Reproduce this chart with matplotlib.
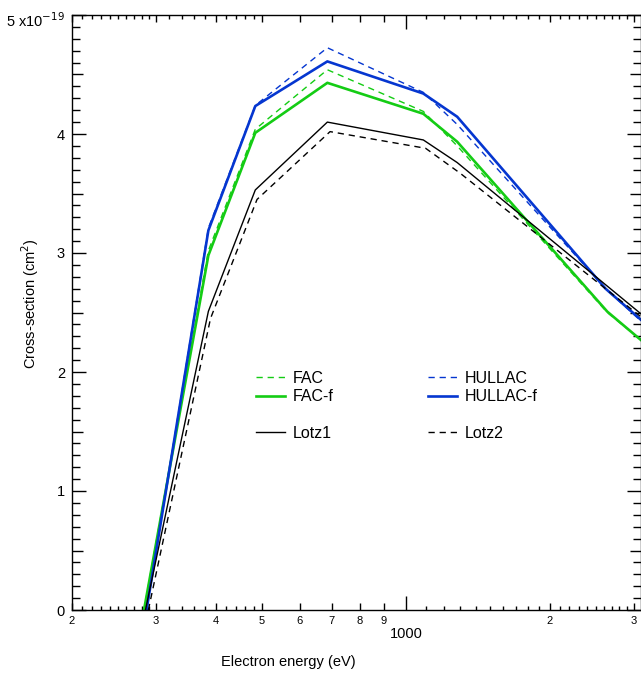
import numpy as np
import matplotlib
matplotlib.use('Agg')
import matplotlib.pyplot as plt
import matplotlib.transforms as mtransforms
from matplotlib.lines import Line2D

plt.rcParams['font.family'] = ['Liberation Sans', 'DejaVu Sans']

# cross-sections in units of 1e-19 cm^2, energies in eV
e_hullac_f = [286.5, 386, 484, 685, 1088, 1281, 2620, 3104]
v_hullac_f = [0, 3.19, 4.235, 4.61, 4.34, 4.145, 2.70, 2.44]
e_hullac = [286.5, 386, 484, 685, 1088, 1281, 2620, 3104]
v_hullac = [0, 3.21, 4.24, 4.725, 4.35, 4.08, 2.70, 2.43]
e_fac_f = [283, 386, 484, 685, 1088, 1281, 2642, 3104]
v_fac_f = [0, 2.98, 4.01, 4.43, 4.17, 3.935, 2.507, 2.27]
e_fac = [283, 386, 484, 685, 1088, 1281, 2642, 3104]
v_fac = [0, 3.02, 4.04, 4.54, 4.19, 3.90, 2.50, 2.27]
e_lotz1 = [285, 386, 484, 685, 1088, 1281, 3104]
v_lotz1 = [0, 2.51, 3.53, 4.10, 3.95, 3.76, 2.49]
e_lotz2 = [289, 390, 488, 694, 1100, 1300, 3104]
v_lotz2 = [0, 2.45, 3.45, 4.02, 3.88, 3.67, 2.465]

xmajor = [200, 300, 400, 500, 600, 700, 800, 900, 1000, 2000, 3000]
xmajor_labels = ['2', '3', '4', '5', '6', '7', '8', '9', '', '2', '3']
xminor = (list(range(210, 300, 10)) + list(range(320, 400, 20)) +
          list(range(420, 500, 20)) + list(range(1100, 2000, 100)) +
          list(range(2100, 3000, 100)))
yticks = [0, 1, 2, 3, 4, 5]
ytick_labels = ['0', '1', '2', '3', '4', '5 x10$^{-19}$']

GREEN = '#14cc14'
BLUE = '#0536d0'

fig = plt.figure(figsize=(6.41, 6.81), dpi=100)
ax = fig.add_axes([72 / 641, 1 - 610 / 681, 568.5 / 641, 595 / 681])

dash = (4.5, 3.5)
ax.plot(e_fac, v_fac, color=GREEN, lw=1.0, dashes=dash, label='FAC')
ax.plot(e_fac_f, v_fac_f, color=GREEN, lw=1.9, label='FAC-f')
ax.plot(e_hullac, v_hullac, color=BLUE, lw=1.0, dashes=dash, label='HULLAC')
ax.plot(e_hullac_f, v_hullac_f, color=BLUE, lw=1.9, label='HULLAC-f')
ax.plot(e_lotz1, v_lotz1, color='black', lw=1.0, label='Lotz1')
ax.plot(e_lotz2, v_lotz2, color='black', lw=1.0, dashes=dash, label='Lotz2')

ax.set_xscale('log')
ax.set_xlim(200, 3100)
ax.set_ylim(0, 5)

ax.xaxis.set_major_locator(matplotlib.ticker.FixedLocator(xmajor))
ax.xaxis.set_minor_locator(matplotlib.ticker.FixedLocator(xminor))
ax.xaxis.set_major_formatter(matplotlib.ticker.FixedFormatter(xmajor_labels))
ax.xaxis.set_minor_formatter(matplotlib.ticker.NullFormatter())
ax.set_yticks(yticks)
ax.set_yticklabels(ytick_labels)
ax.yaxis.set_minor_locator(matplotlib.ticker.MultipleLocator(0.1))

ax.tick_params(which='both', direction='in', top=True, right=True, width=1.0)
ax.tick_params(axis='x', which='major', length=5, labelsize=8, pad=4)
ax.tick_params(axis='x', which='minor', length=3)
ax.tick_params(axis='y', which='major', length=10, labelsize=10.5, pad=5)
ax.tick_params(axis='y', which='minor', length=5.5)
for s in ax.spines.values():
    s.set_linewidth(1.0)

# longer tick at 1000 and at the half-integers
for t, loc in zip(ax.xaxis.get_major_ticks(), xmajor):
    if loc == 1000:
        t.tick1line.set_markersize(10)
        t.tick2line.set_markersize(10)
yminor = ax.yaxis.get_minorticklocs()
for t, loc in zip(ax.yaxis.get_minor_ticks(len(yminor)), yminor):
    if abs(loc * 2 - round(loc * 2)) < 1e-6:
        t.tick1line.set_markersize(8)
        t.tick2line.set_markersize(8)

# the exponent label sits a little below its tick
top_lab = ax.yaxis.get_major_ticks()[-1].label1
top_lab.set_transform(top_lab.get_transform() +
                      mtransforms.ScaledTranslation(0, -3 / 72, fig.dpi_scale_trans))

ax.text(1000, -0.028, '1000', transform=ax.get_xaxis_transform(),
        ha='center', va='top', fontsize=10.5)

fig.text(288 / 641, 1 - 662 / 681, 'Electron energy (eV)', ha='center',
         va='center', fontsize=10.5)
fig.text(30 / 641, 1 - 304 / 681, 'Cross-section (cm$^2$)', ha='center',
         va='center', rotation=90, fontsize=10.5)

blank = Line2D([], [], color='none')
h = {l.get_label(): l for l in ax.get_lines()}
handles = [h['FAC'], h['FAC-f'], blank, h['Lotz1'],
           h['HULLAC'], h['HULLAC-f'], blank, h['Lotz2']]
labels = ['FAC', 'FAC-f', '', 'Lotz1', 'HULLAC', 'HULLAC-f', '', 'Lotz2']
ax.legend(handles, labels, ncol=2, loc='upper left', frameon=False,
          bbox_to_anchor=(256 / 641, 1 - 371 / 681),
          bbox_transform=fig.transFigure, borderpad=0, borderaxespad=0,
          fontsize=11.5, handlelength=1.8, handletextpad=0.48,
          labelspacing=0.2, columnspacing=5.95)

fig.savefig('out.png', dpi=100)
